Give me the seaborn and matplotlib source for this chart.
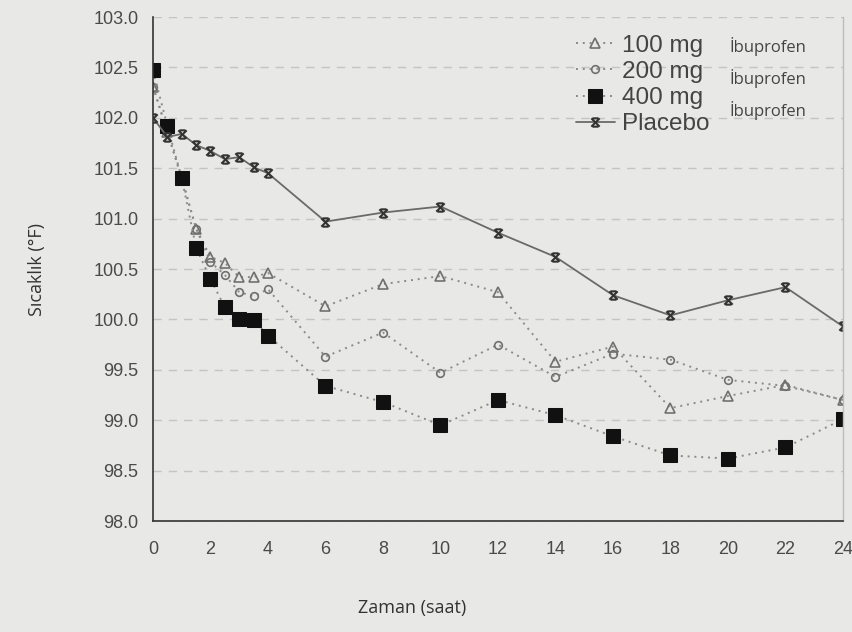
import numpy as np
import pandas as pd
import matplotlib
matplotlib.use("Agg")
import matplotlib.pyplot as plt
from matplotlib.path import Path
import seaborn as sns

# ---- data ----
hours = [0, 0.5, 1, 1.5, 2, 2.5, 3, 3.5, 4, 6, 8, 10, 12, 14, 16, 18, 20, 22, 24]
ibu100 = [102.31, 101.86, 101.40, 100.90, 100.62, 100.56, 100.42, 100.42, 100.46, 100.13, 100.35,
          100.43, 100.27, 99.58, 99.73, 99.12, 99.24, 99.35, 99.20]
ibu200 = [102.31, 101.86, 101.40, 100.90, 100.57, 100.44, 100.27, 100.23, 100.30, 99.63, 99.87,
          99.47, 99.75, 99.43, 99.66, 99.60, 99.40, 99.34, 99.20]
ibu400 = [102.47, 101.92, 101.40, 100.71, 100.40, 100.12, 100.00, 99.99, 99.84, 99.34, 99.18,
          98.95, 99.20, 99.05, 98.84, 98.65, 98.62, 98.73, 99.01]
placebo = [102.00, 101.81, 101.84, 101.73, 101.67, 101.59, 101.61, 101.51, 101.45, 100.97, 101.06,
           101.12, 100.86, 100.62, 100.24, 100.04, 100.19, 100.32, 99.93]
labels = ["100 mg", "200 mg", "400 mg", "Placebo"]
sub_label = "İbuprofen"
x_ticks = list(range(0, 25, 2))
y_ticks = [98.0, 98.5, 99.0, 99.5, 100.0, 100.5, 101.0, 101.5, 102.0, 102.5, 103.0]

bg = "#e8e8e6"
sns.set_theme(style="white")
plt.rcParams["font.family"] = ["Liberation Sans", "DejaVu Sans"]

fig = plt.figure(figsize=(8.53, 6.32), dpi=100, facecolor=bg)
ax = fig.add_axes([153/853, 1-521/632, (843-153)/853, (521-17)/632])
ax.set_facecolor(bg)

# custom placebo marker: X with bars top and bottom
xm_path = Path([(-1, 1), (1, -1), (1, 1), (-1, -1), (-0.7, 1), (0.7, 1), (-0.7, -1), (0.7, -1)],
               [Path.MOVETO, Path.LINETO, Path.MOVETO, Path.LINETO,
                Path.MOVETO, Path.LINETO, Path.MOVETO, Path.LINETO])

dot_col = "#8a8a8a"
df = pd.DataFrame({"t": hours, "a": ibu100, "b": ibu200, "c": ibu400, "p": placebo})

sns.lineplot(data=df, x="t", y="a", ax=ax, color=dot_col, linestyle=(0, (1, 2.5)), lw=1.4,
             marker="^", markersize=6.5, markerfacecolor="none", markeredgecolor="#707070",
             markeredgewidth=1.2, label=labels[0])
sns.lineplot(data=df, x="t", y="b", ax=ax, color=dot_col, linestyle=(0, (1, 2.5)), lw=1.4,
             marker="o", markersize=5.5, markerfacecolor="none", markeredgecolor="#707070",
             markeredgewidth=1.2, label=labels[1])
sns.lineplot(data=df, x="t", y="c", ax=ax, color=dot_col, linestyle=(0, (1, 2.5)), lw=1.4,
             marker="s", markersize=9.5, markerfacecolor="#111111", markeredgecolor="#111111",
             label=labels[2])
sns.lineplot(data=df, x="t", y="p", ax=ax, color="#6a6a6a", linestyle="-", lw=1.3,
             marker=xm_path, markersize=6, markeredgecolor="#333333", markeredgewidth=1.5,
             label=labels[3])

ax.set_xlim(0, 24)
ax.set_ylim(98, 103)
ax.set_xticks(x_ticks)
ax.set_xticks(list(range(1, 24, 2)), minor=True)
ax.set_yticks(y_ticks)
ax.set_yticklabels([f"{v:.1f}" for v in y_ticks])
ax.tick_params(axis="both", which="major", direction="inout", length=9, width=1.1,
               colors="#333333", labelcolor="#4a4a4a", labelsize=13)
ax.tick_params(axis="x", which="minor", direction="inout", length=5, width=1.0, colors="#333333")
ax.tick_params(axis="x", which="major", pad=10)
ax.tick_params(axis="y", which="major", pad=6)

ax.grid(axis="y", linestyle=(0, (6, 5)), color="#c4c4c4", lw=1.0)
ax.grid(axis="x", visible=False)
ax.set_axisbelow(True)

for s in ["left", "bottom"]:
    ax.spines[s].set_color("#333333")
    ax.spines[s].set_linewidth(1.2)
ax.spines["top"].set_visible(False)
ax.spines["right"].set_color("#bdbdbd")
ax.spines["right"].set_linewidth(1.0)

ax.set_xlabel("Zaman (saat)", fontsize=13, color="#333333", family=["Open Sans", "DejaVu Sans"])
ax.set_ylabel("Sıcaklık (°F)", fontsize=13, color="#333333", family=["Open Sans", "DejaVu Sans"])
ax.xaxis.set_label_coords(0.375, -0.155)
ax.yaxis.set_label_coords(-0.155, 0.5)

leg = ax.legend(loc="upper left", bbox_to_anchor=((566-153)/690, 1 - (8)/504), frameon=False,
                handlelength=1.6, handletextpad=0.3, labelspacing=0.17,
                borderaxespad=0, prop={"family": ["Liberation Sans", "DejaVu Sans"], "size": 17.5})
for t in leg.get_texts():
    t.set_color("#444444")

for ypx in [47, 78, 111]:
    fig.text(730/853, 1 - ypx/632, sub_label, fontsize=12, color="#444444",
             ha="left", va="center", family=["Open Sans", "DejaVu Sans"])

fig.savefig("out.png", dpi=100, facecolor=bg)
